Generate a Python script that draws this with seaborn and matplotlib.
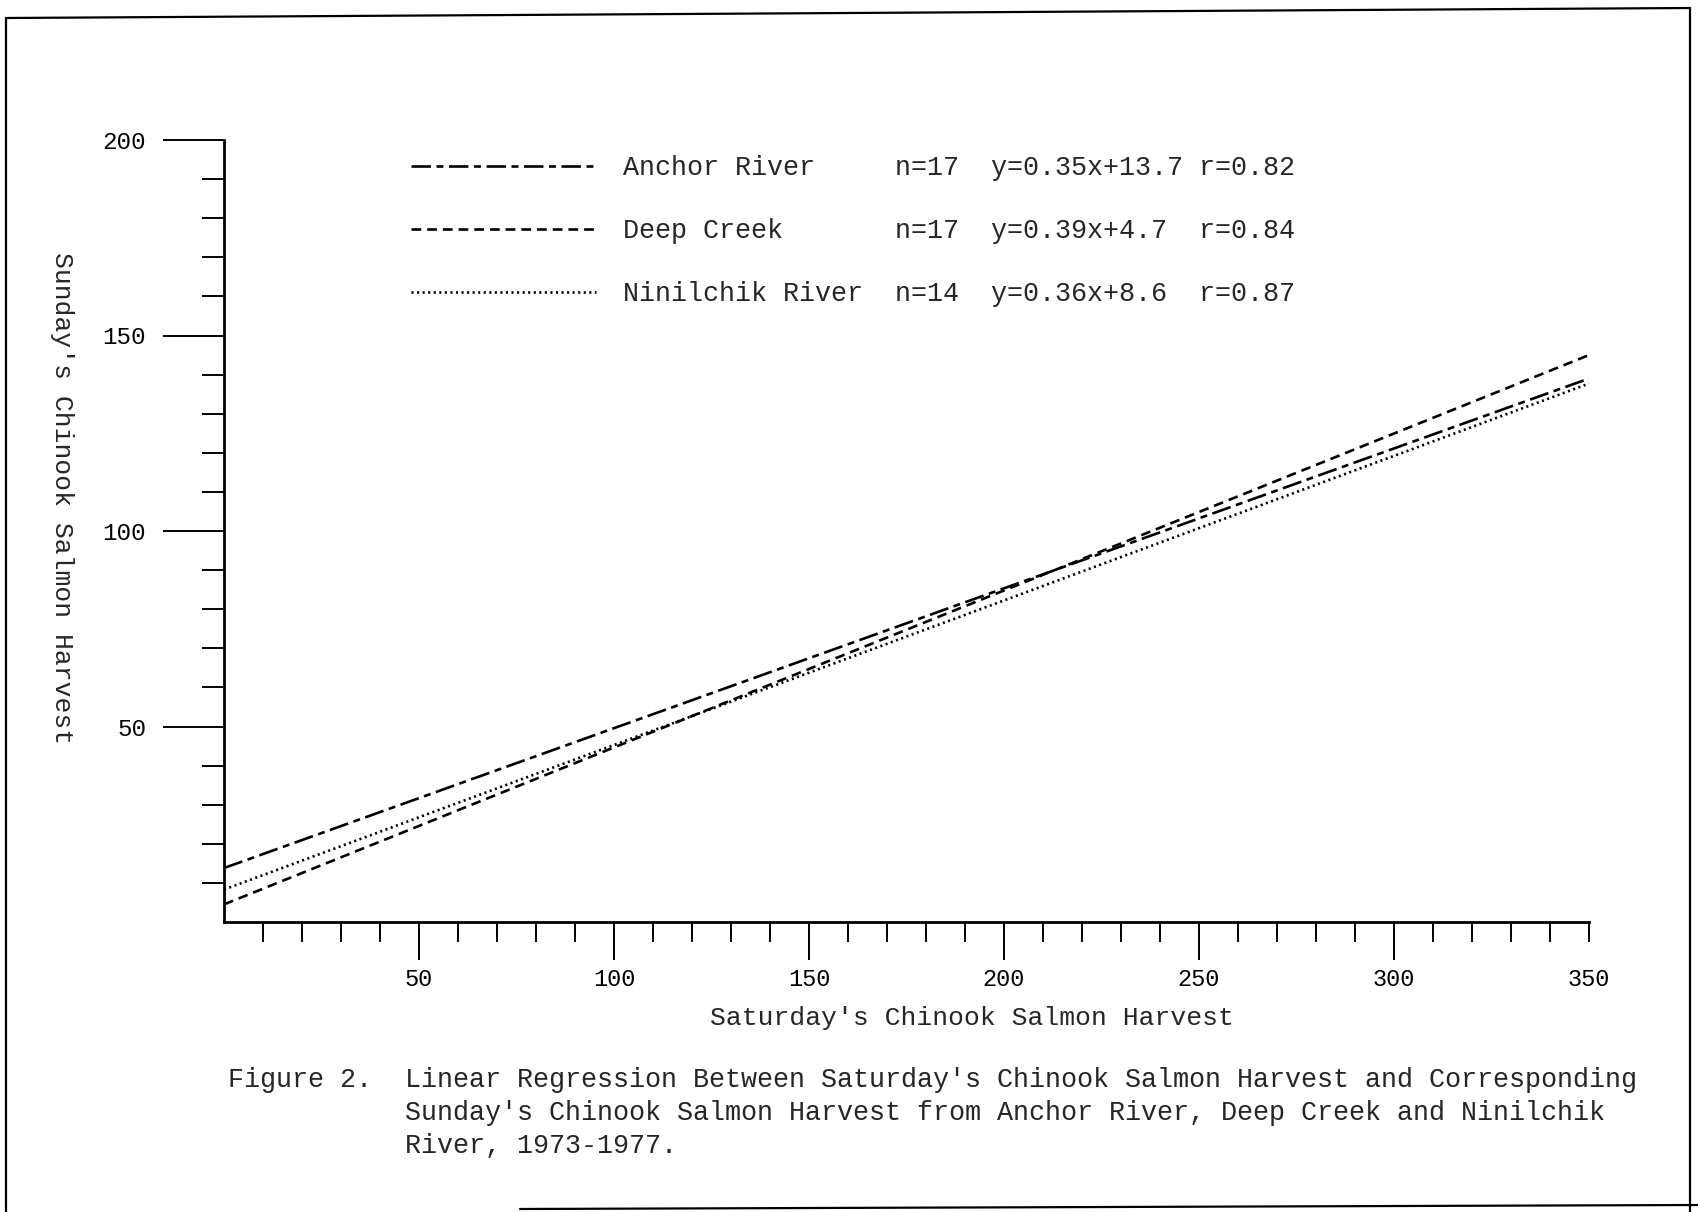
import numpy as np
import pandas as pd
import matplotlib
matplotlib.use("Agg")
import matplotlib.pyplot as plt
import seaborn as sns
from matplotlib.lines import Line2D

x_ends = [0, 350]
anchor = [13.8, 139.0]
deep = [4.5, 145.0]
ninilchik = [8.3, 137.7]

rivers = ["Anchor River", "Deep Creek", "Ninilchik River"]
n_obs = [17, 17, 14]
equations = ["y=0.35x+13.7", "y=0.39x+4.7", "y=0.36x+8.6"]
r_values = ["r=0.82", "r=0.84", "r=0.87"]

x_major = [50, 100, 150, 200, 250, 300, 350]
y_major = [50, 100, 150, 200]

caption = [
    "Linear Regression Between Saturday's Chinook Salmon Harvest and Corresponding",
    "Sunday's Chinook Salmon Harvest from Anchor River, Deep Creek and Ninilchik",
    "River, 1973-1977.",
]


def main():
    sns.set_style("white")
    plt.rcParams["font.family"] = ["Liberation Mono", "DejaVu Sans Mono"]
    plt.rcParams["lines.scale_dashes"] = False

    W, H = 1698, 1212
    fig = plt.figure(figsize=(W / 100, H / 100), dpi=100)
    # axes box in pixels: x 224..1589, y 140..922
    ax = fig.add_axes([224 / W, 1 - 922 / H, 1365 / W, 782 / H])

    df = pd.DataFrame({
        "sat": x_ends * 3,
        "sun": anchor + deep + ninilchik,
        "river": np.repeat(rivers, 2),
    })
    dash_map = {
        "Anchor River": (14, 4, 5, 4),
        "Deep Creek": (7, 4.3),
        "Ninilchik River": (1.5, 2.5),
    }
    sns.lineplot(data=df, x="sat", y="sun", style="river", style_order=rivers,
                 dashes=dash_map, color="black", linewidth=1.9, legend=False, ax=ax)

    ax.set_xlim(0, 350)
    ax.set_ylim(0, 200)
    sns.despine(ax=ax)
    for side in ["left", "bottom"]:
        ax.spines[side].set_linewidth(2)
        ax.spines[side].set_color("black")

    ax.set_xticks(x_major)
    ax.set_xticks(np.arange(10, 350, 10), minor=True)
    ax.set_yticks(y_major)
    ax.set_yticks(np.arange(10, 200, 10), minor=True)
    ax.tick_params(axis="x", which="major", direction="out", length=27, width=1.4,
                   pad=6, labelsize=17, colors="black", bottom=True)
    ax.tick_params(axis="x", which="minor", direction="out", length=14.5, width=1.4,
                   bottom=True, colors="black")
    ax.tick_params(axis="y", which="major", direction="out", length=44, width=1.4,
                   pad=12, labelsize=17.5, colors="black", left=True)
    ax.tick_params(axis="y", which="minor", direction="out", length=15.5, width=1.4,
                   left=True, colors="black")
    # the 350 tick at the end of the axis is short
    ax.xaxis.get_major_ticks()[-1].tick1line.set_markersize(14.5)

    ax.set_xlabel("Saturday's Chinook Salmon Harvest", fontsize=19, va="center")
    ax.xaxis.set_label_coords((972 - 224) / 1365, (922 - 1018) / 782)
    ax.set_ylabel("Sunday's Chinook Salmon Harvest", fontsize=19, rotation=270,
                  va="center", ha="center")
    ax.yaxis.set_label_coords((62 - 224) / 1365, (922 - 498) / 782)

    labels = [f"{rv:<17}{'n=' + str(n):<6}{eq:<13}{r}"
              for rv, n, eq, r in zip(rivers, n_obs, equations, r_values)]
    ax.legend(handles=ax.get_lines()[:3], labels=labels,
              prop={"family": "Liberation Mono", "size": 19.3},
              frameon=False, handlelength=6.9, handletextpad=1.0,
              labelspacing=1.38, borderpad=0, borderaxespad=0,
              loc="upper left", bbox_to_anchor=(411 / W, 1 - 155 / H),
              bbox_transform=fig.transFigure)

    # caption below the chart
    fig.text(228 / W, 1 - 1080 / H, "Figure 2.", fontsize=19.25, va="center")
    for i, line in enumerate(caption):
        fig.text(405 / W, 1 - (1080 + 33 * i) / H, line, fontsize=19.25, va="center")

    # page frame of the scanned report
    frame = [
        ([6, 6], [1212, 18]),
        ([6, 1690], [18, 8]),
        ([1690, 1690], [8, 1212]),
        ([520, 1698], [1209, 1205]),
    ]
    for xs, ys in frame:
        fig.add_artist(Line2D([x / W for x in xs], [1 - y / H for y in ys],
                              transform=fig.transFigure, color="black", lw=1.6))

    fig.savefig("out.png", dpi=100)


if __name__ == "__main__":
    main()
